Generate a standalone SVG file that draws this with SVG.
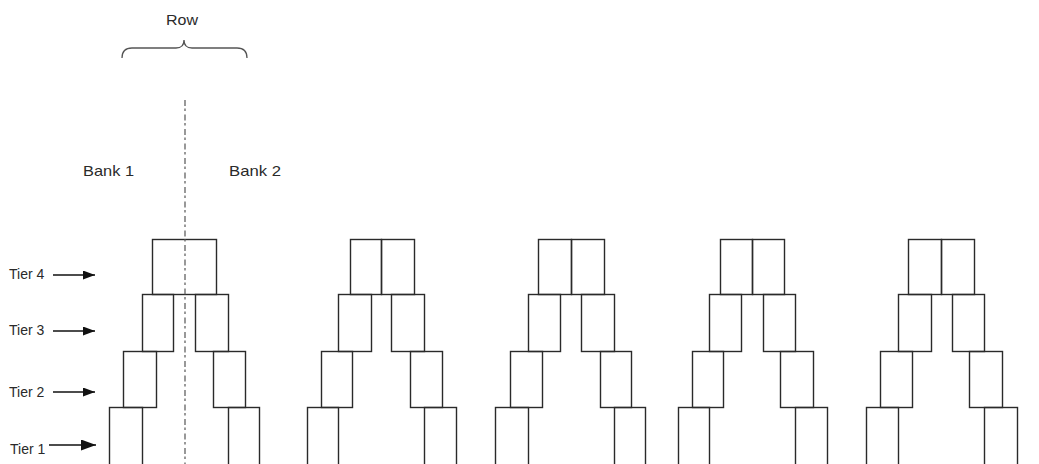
<svg xmlns="http://www.w3.org/2000/svg" width="1039" height="464" viewBox="0 0 1039 464">
<style>
.box{fill:none;stroke:#2a2a2a;stroke-width:1.4}
.lbl{font-family:"Liberation Sans",Arial,sans-serif;font-size:14px;fill:#2a2a2a}
.big{font-size:15px}
.arr{stroke:#111;stroke-width:1.4;fill:none}
.axis{stroke:#555;stroke-width:1.2;stroke-dasharray:6 2.5 2.5 3.5;fill:none}
.brace{stroke:#555;stroke-width:1.3;fill:none}
</style>
<defs>
<marker id="ah" markerUnits="userSpaceOnUse" markerWidth="13" markerHeight="10" refX="12" refY="4.5" orient="auto">
<path d="M0,0 L12,4.5 L0,9 Z" fill="#111"/>
</marker>
<marker id="ah2" markerUnits="userSpaceOnUse" markerWidth="16" markerHeight="12" refX="15" refY="5.5" orient="auto">
<path d="M0,0 L15,5.5 L0,11 Z" fill="#111"/>
</marker>
</defs>
<rect width="1039" height="464" fill="#fff"/>

<g id="labels">
<text class="lbl big" x="166" y="25" textLength="32" lengthAdjust="spacingAndGlyphs">Row</text>
<text class="lbl big" x="83" y="176" textLength="51" lengthAdjust="spacingAndGlyphs">Bank 1</text>
<text class="lbl big" x="229" y="176" textLength="52" lengthAdjust="spacingAndGlyphs">Bank 2</text>
<text class="lbl" x="9" y="279">Tier 4</text>
<text class="lbl" x="9" y="335">Tier 3</text>
<text class="lbl" x="9" y="397">Tier 2</text>
<text class="lbl" x="10" y="454">Tier 1</text>
</g>

<g id="row-brace">
<path class="brace" d="M122,58 C122,52 125,48 132,48 L176,48 C181,48 184,45 184,40 C184,45 187,48 192,48 L237,48 C244,48 247,52 247,58"/>
</g>

<g id="stack1">
<rect class="box" x="152.5" y="239.5" width="64" height="55"/>
<rect class="box" x="142.5" y="294.5" width="31" height="57"/>
<rect class="box" x="195.5" y="294.5" width="33" height="57"/>
<rect class="box" x="123.5" y="351.5" width="33" height="56"/>
<rect class="box" x="213.5" y="351.5" width="32" height="56"/>
<rect class="box" x="109.5" y="407.5" width="33" height="70"/>
<rect class="box" x="228.5" y="407.5" width="31" height="70"/>
</g>

<g id="stack2">
<rect class="box" x="350.5" y="239.5" width="31" height="55"/>
<rect class="box" x="381.5" y="239.5" width="33" height="55"/>
<rect class="box" x="338.5" y="294.5" width="33" height="57"/>
<rect class="box" x="391.5" y="294.5" width="33" height="57"/>
<rect class="box" x="321.5" y="351.5" width="31" height="56"/>
<rect class="box" x="410.5" y="351.5" width="32" height="56"/>
<rect class="box" x="307.5" y="407.5" width="31" height="70"/>
<rect class="box" x="424.5" y="407.5" width="32" height="70"/>
</g>

<g id="stack3">
<rect class="box" x="538.5" y="239.5" width="33" height="55"/>
<rect class="box" x="571.5" y="239.5" width="33" height="55"/>
<rect class="box" x="528.5" y="294.5" width="32" height="57"/>
<rect class="box" x="581.5" y="294.5" width="33" height="57"/>
<rect class="box" x="510.5" y="351.5" width="32" height="56"/>
<rect class="box" x="600.5" y="351.5" width="31" height="56"/>
<rect class="box" x="495.5" y="407.5" width="33" height="70"/>
<rect class="box" x="614.5" y="407.5" width="31" height="70"/>
</g>

<g id="stack4">
<rect class="box" x="720.5" y="239.5" width="32" height="55"/>
<rect class="box" x="752.5" y="239.5" width="32" height="55"/>
<rect class="box" x="709.5" y="294.5" width="32" height="57"/>
<rect class="box" x="763.5" y="294.5" width="32" height="57"/>
<rect class="box" x="692.5" y="351.5" width="31" height="56"/>
<rect class="box" x="780.5" y="351.5" width="33" height="56"/>
<rect class="box" x="678.5" y="407.5" width="31" height="70"/>
<rect class="box" x="795.5" y="407.5" width="32" height="70"/>
</g>

<g id="stack5">
<rect class="box" x="908.5" y="239.5" width="33" height="55"/>
<rect class="box" x="941.5" y="239.5" width="33" height="55"/>
<rect class="box" x="898.5" y="294.5" width="33" height="57"/>
<rect class="box" x="952.5" y="294.5" width="32" height="57"/>
<rect class="box" x="880.5" y="351.5" width="32" height="56"/>
<rect class="box" x="969.5" y="351.5" width="33" height="56"/>
<rect class="box" x="866.5" y="407.5" width="32" height="70"/>
<rect class="box" x="984.5" y="407.5" width="33" height="70"/>
</g>

<g id="bank-divider">
<line class="axis" x1="185" y1="100" x2="185" y2="470"/>
</g>

<g id="connectors">
<line class="arr" x1="53" y1="275" x2="95" y2="275" marker-end="url(#ah)"/>
<line class="arr" x1="53" y1="331" x2="95" y2="331" marker-end="url(#ah)"/>
<line class="arr" x1="53" y1="392" x2="95" y2="392" marker-end="url(#ah)"/>
<line class="arr" x1="49" y1="445" x2="96" y2="445" marker-end="url(#ah2)"/>
</g>
</svg>
